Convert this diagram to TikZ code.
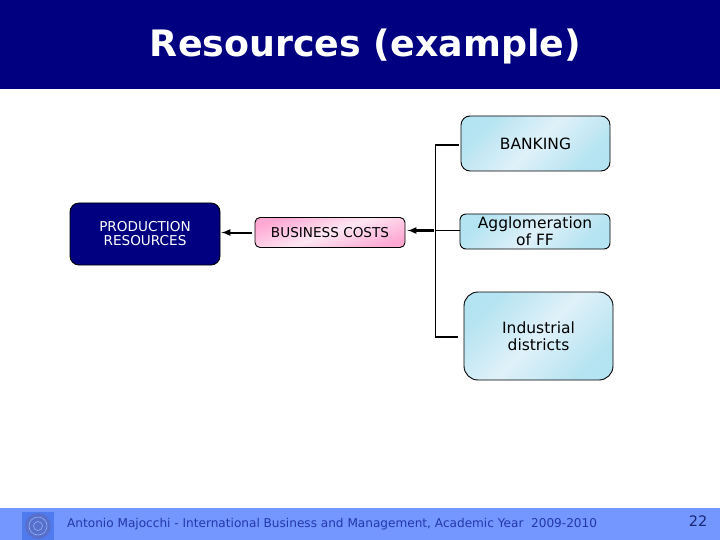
\documentclass[tikz,border=0pt]{standalone}
\usepackage{fontspec}
\setmainfont{DejaVu Sans}
\definecolor{navy}{HTML}{000080}
\definecolor{footblue}{HTML}{7396FF}
\definecolor{foottext}{HTML}{2438A8}
\definecolor{sealblue}{HTML}{4F7BEE}
\definecolor{sealdark}{HTML}{5670CC}
\definecolor{skydark}{HTML}{B4E3F1}
\definecolor{skylight}{HTML}{DFF1F9}
\definecolor{pinkdark}{HTML}{FFA8D4}
\definecolor{pinklight}{HTML}{FDE6F2}
\tikzset{
	skybox/.style={draw=black,line width=0.9pt,rounded corners=9pt,font=\fontsize{15.5}{17}\selectfont,align=center,
		shading=axis,top color=skydark,bottom color=skydark,middle color=skylight,shading angle=45,inner sep=0pt},
	link/.style={draw=black,line width=1.1pt},
	flow/.style={->,draw=black,line width=2pt}
}
\begin{document}
\begin{tikzpicture}[x=1pt,y=-1pt,> = latex]
		\useasboundingbox (0,0) rectangle (720,540);
		\fill[navy] (0,0) rectangle (720,89);
		\fill[footblue] (0,508) rectangle (720,540);
		\fill[sealblue] (22,512) rectangle (54,540);
		\fill[sealdark] (38,526) circle (13);
		\draw[sealblue!60!white,line width=0.6pt] (38,526) circle (9) (38,526) circle (4.5);
		\node[text=white,font=\bfseries\fontsize{36.4}{40}\selectfont] (title) at (365.5,46) {Resources (example)};
		\node[skybox,minimum width=149pt,minimum height=55pt] (banking) at (535.5,143.5) {BANKING};
		\node[skybox,rounded corners=6pt,minimum width=150pt,minimum height=35pt] (agglo) at (535,231.5) {Agglomeration\\of FF};
		\node[skybox,rounded corners=14pt,minimum width=149pt,minimum height=88pt] (districts) at (538.5,336) {Industrial\ \\districts};
		\node[draw=black,line width=0.9pt,rounded corners=5pt,shading=axis,top color=pinkdark,bottom color=pinkdark,middle color=pinklight,shading angle=20,
			minimum width=150pt,minimum height=30pt,inner sep=0pt,font=\fontsize{13.6}{15}\selectfont] (costs) at (330,232.5) {BUSINESS COSTS};
		\node[fill=navy,draw=black,line width=0.9pt,rounded corners=9pt,text=white,align=center,
			minimum width=150pt,minimum height=62pt,inner sep=0pt,font=\fontsize{13.6}{14}\selectfont] (resources) at (145,234) {PRODUCTION\\RESOURCES};
		\coordinate (trunk) at (435.5,230.5);
		\draw[link] (banking.west) ++(-2,1.5) -| (trunk);
		\draw[link] (trunk) |- ([xshift=-6pt,yshift=-1pt]districts.west);
		\draw[link] (trunk) -- (agglo.west |- trunk);
		\draw[flow] ([xshift=-2pt]trunk) -- ([xshift=2pt]costs.east |- trunk);
		\draw[flow] ([xshift=-3pt]costs.west) -- ([xshift=1pt]costs.west -| resources.east);
		\node[anchor=west,inner sep=0pt,text=foottext,font=\fontsize{12.1}{15}\selectfont] (footer) at (67,524.5) {Antonio Majocchi - International Business and Management, Academic Year\ \ 2009-2010};
		\node[text=foottext!70!black,font=\fontsize{14.5}{15}\selectfont] (page) at (698,521) {22};
\end{tikzpicture}
\end{document}
